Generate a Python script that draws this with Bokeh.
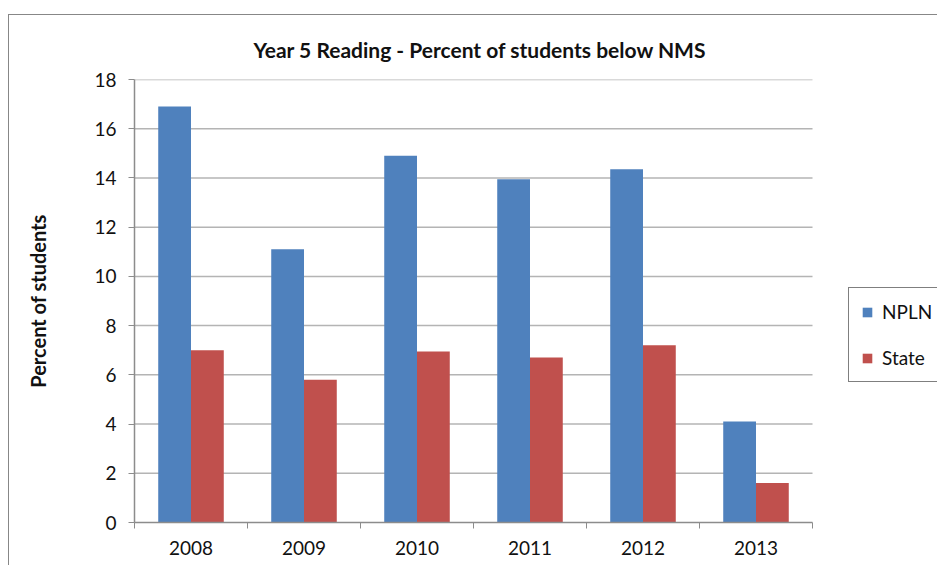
from bokeh.plotting import figure
from bokeh.models import (ColumnDataSource, FixedTicker, Legend, LegendItem, Range1d)
from bokeh.transform import dodge
from bokeh.embed import file_html
from bokeh.resources import INLINE

years = ["2008", "2009", "2010", "2011", "2012", "2013"]
npln = [16.9, 11.1, 14.9, 13.95, 14.35, 4.1]
state = [7.0, 5.8, 6.95, 6.7, 7.2, 1.6]
y_ticks = [0, 2, 4, 6, 8, 10, 12, 14, 16, 18]

title_text = "Year 5 Reading  - Percent of students below NMS"
y_label = "Percent of students"

FONT = "Lato"
BLUE = "#4F81BD"
RED = "#C0504D"
GRID = "#b4b4b4"
AXIS = "#8c8c8c"

# the chart box starts at (8, 14) on the page and runs past the right/bottom edges
OX, OY = 8, 14
W, H = 937 - OX, 565 - OY
FL, FT, FB = 133 - OX, 78 - OY, 521 - OY
PLOT_R = 811 - OX          # right end of the category axis
n = len(years)
x_end = n * (W - FL) / (PLOT_R - FL)   # frame runs to the right edge (legend lives there)

pos = [i + 0.5 for i in range(n)]
src = ColumnDataSource(dict(pos=pos, year=years, npln=npln, state=state))
gsrc = ColumnDataSource(dict(y=y_ticks[1:], x0=[0] * (len(y_ticks) - 1),
                             x1=[n] * (len(y_ticks) - 1)))

p = figure(width=W, height=H, output_backend="svg", toolbar_location=None,
           x_range=Range1d(0, x_end), y_range=Range1d(0, 18),
           min_border_left=FL, min_border_right=0, min_border_top=FT,
           min_border_bottom=H - FB, outline_line_color=None,
           background_fill_color="white", border_fill_color="white",
           title=title_text)
p.styles = {"border-left": "1.5px solid #878787", "border-top": "1.5px solid #878787",
            "margin-left": f"{OX}px", "margin-top": f"{OY}px"}

p.title.align = "left"
p.title.offset = (252 - OX) - FL
p.title.standoff = 35
p.title.text_font = FONT
p.title.text_font_style = "bold"
p.title.text_font_size = "21px"
p.title.text_color = "#111111"

# horizontal gridlines, stopping at the end of the category axis
p.segment(x0="x0", x1="x1", y0="y", y1="y", source=gsrc,
          line_color=GRID, line_width=1.5)

r1 = p.vbar(x=dodge("pos", -0.145, range=p.x_range), top="npln", width=0.29,
            source=src, fill_color=BLUE, line_color=None)
r2 = p.vbar(x=dodge("pos", 0.145, range=p.x_range), top="state", width=0.29,
            source=src, fill_color=RED, line_color=None)

# axes
p.xaxis.bounds = (0, n)
p.xaxis.ticker = FixedTicker(ticks=pos, minor_ticks=list(range(n + 1)))
p.xaxis.major_label_overrides = {pp: y for pp, y in zip(pos, years)}
p.xaxis.major_tick_out = 0
p.xaxis.major_tick_in = 0
p.xaxis.minor_tick_out = 6
p.xaxis.minor_tick_in = 0
p.xaxis.minor_tick_line_color = AXIS
p.xaxis.axis_line_color = AXIS
p.xaxis.axis_line_width = 1.5
p.xaxis.major_label_standoff = 12
p.xaxis.major_label_text_font = FONT
p.xaxis.major_label_text_font_size = "19px"
p.xaxis.major_label_text_color = "#111111"

p.yaxis.ticker = FixedTicker(ticks=y_ticks)
p.yaxis.major_tick_out = 6
p.yaxis.major_tick_in = 0
p.yaxis.minor_tick_line_color = None
p.yaxis.major_tick_line_color = AXIS
p.yaxis.axis_line_color = AXIS
p.yaxis.axis_line_width = 1.5
p.yaxis.major_label_standoff = 12
p.yaxis.major_label_text_font = FONT
p.yaxis.major_label_text_font_size = "19px"
p.yaxis.major_label_text_color = "#111111"
p.yaxis.axis_label = y_label
p.yaxis.axis_label_standoff = 41
p.yaxis.axis_label_text_font = FONT
p.yaxis.axis_label_text_font_style = "bold"
p.yaxis.axis_label_text_font_size = "20px"
p.yaxis.axis_label_text_color = "#111111"

p.xgrid.grid_line_color = None
p.ygrid.grid_line_color = None

# legend (sits at the right, running past the page edge like the original)
legend = Legend(items=[LegendItem(label="NPLN", renderers=[r1]),
                       LegendItem(label="State", renderers=[r2])],
                location=((847 - OX) - FL, FB - (381 - OY)), orientation="vertical",
                border_line_color="black", border_line_width=1.5,
                background_fill_color="white", padding=12, margin=0,
                glyph_width=12, glyph_height=12, label_height=20, spacing=23,
                label_standoff=9, label_text_font=FONT,
                label_text_font_size="19px", label_text_color="#111111")
p.add_layout(legend, "center")

open("out.html", "w").write(file_html(p, INLINE))
